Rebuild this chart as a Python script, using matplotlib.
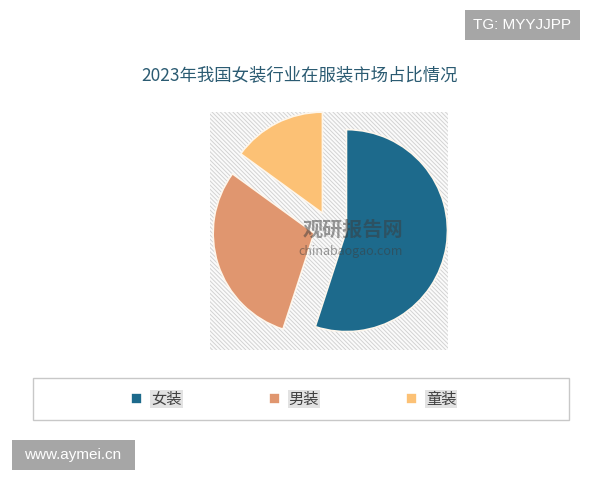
import matplotlib.pyplot as plt
from matplotlib.patches import Rectangle

plt.rcParams['font.family'] = ['Noto Sans CJK SC', 'DejaVu Sans']
plt.rcParams['hatch.linewidth'] = 0.7
plt.rcParams['hatch.color'] = '#d3d3d3'

categories = ['女装', '男装', '童装']
shares = [55, 30, 15]
colors = ['#1d6a8c', '#e0966f', '#fcc175']
title = '2023年我国女装行业在服装市场占比情况'

W, H = 600, 480
fig = plt.figure(figsize=(6, 4.8), dpi=100)
fig.patch.set_facecolor('white')

# pie area (pixel box 210..448 x 112..350)
ax = fig.add_axes([210 / W, 1 - 350 / H, 238 / W, 238 / H])
ax.add_patch(Rectangle((0, 0), 1, 1, transform=ax.transAxes, facecolor='#fbfbfb',
                       edgecolor='#d3d3d3', hatch='\\' * 8, linewidth=0, zorder=0))
wedges, _ = ax.pie(shares, colors=colors, startangle=90, counterclock=False,
                   explode=[0.165] * 3, radius=1, center=(0, 0),
                   wedgeprops=dict(edgecolor='#fdf6ec', linewidth=1.2))
ax.set_xlim(-120 / 101, 118 / 101)
ax.set_ylim(-122 / 101, 116 / 101)
ax.set_aspect('auto')
ax.axis('off')

fig.text(0.5, 1 - 75 / H, title, ha='center', va='center', fontsize=12.5, color='#2b5b72')

# watermark
fig.text(353 / W, 1 - 229 / H, '观研报告网', ha='center', va='center', fontsize=14.5,
         fontweight='bold', color='#3c3c3c', alpha=0.5)
fig.text(351 / W, 1 - 252 / H, 'chinabaogao.com', ha='center', va='center', fontsize=9,
         color='#3c3c3c', alpha=0.5)

# legend frame
fig.patches.append(Rectangle((33 / W, 1 - 420 / H), 536 / W, 42 / H, transform=fig.transFigure,
                             facecolor='white', edgecolor='#c8c8c8', linewidth=1))
leg = fig.legend(wedges, categories, loc='center', bbox_to_anchor=(0.49, 1 - 399 / H),
                 ncol=3, frameon=False, fontsize=11, columnspacing=5.7,
                 handlelength=0.7, handleheight=0.7, handletextpad=0.6)
for t in leg.get_texts():
    t.set_color('#404040')
    t.set_bbox(dict(facecolor='#e2e2e2', edgecolor='none', pad=0.5))
for h in leg.legend_handles:
    h.set_edgecolor('white')

# corner tags
fig.patches.append(Rectangle((465 / W, 1 - 40 / H), 115 / W, 30 / H, transform=fig.transFigure,
                             facecolor='#a6a6a6', edgecolor='none'))
fig.text(522 / W, 1 - 25 / H, 'TG: MYYJJPP', ha='center', va='center', fontsize=11,
         color='white', family='Liberation Sans')
fig.patches.append(Rectangle((12 / W, 1 - 470 / H), 123 / W, 30 / H, transform=fig.transFigure,
                             facecolor='#a6a6a6', edgecolor='none'))
fig.text(73 / W, 1 - 455 / H, 'www.aymei.cn', ha='center', va='center', fontsize=11,
         color='white', family='Liberation Sans')

fig.savefig('out.png', dpi=100)
